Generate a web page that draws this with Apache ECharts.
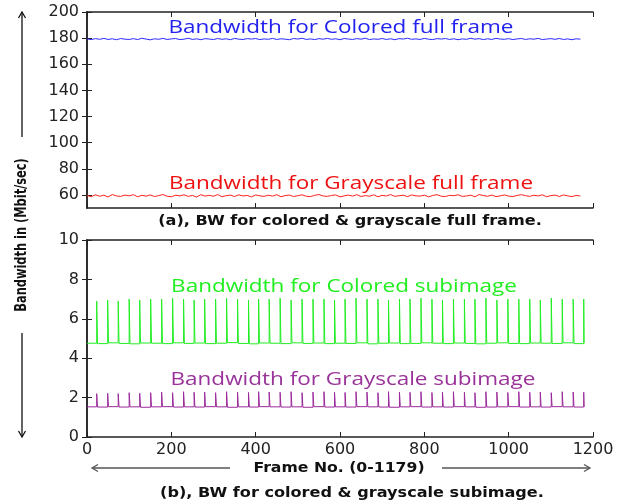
<!DOCTYPE html>
<html>
<head>
<meta charset="utf-8">
<script src="https://cdn.jsdelivr.net/npm/echarts@6/dist/echarts.min.js"></script>
<style>html,body{margin:0;padding:0;background:#fff}#c{width:633px;height:504px}</style>
</head>
<body>
<div id="c"></div>
<script>
// ---- data ----
var fullStep = 10; // sampling grid of frames for the full-frame series
var coloredFull = [
179.4,178.9,179.6,179.1,179.8,179.0,179.5,178.8,179.7,179.2,
179.0,179.6,178.9,179.9,179.3,178.7,179.5,179.1,179.8,179.0,
179.4,179.7,178.9,179.2,179.9,179.0,179.5,178.8,179.6,179.3,
178.9,179.7,179.1,179.5,178.8,179.8,179.2,179.0,179.6,179.3,
179.7,178.9,179.4,179.1,179.8,179.0,179.5,179.2,178.8,179.7,
179.3,179.9,179.0,179.4,178.9,179.6,179.2,179.8,179.1,179.5,
178.8,179.7,179.3,179.0,179.6,179.2,179.9,178.9,179.4,179.1,
179.7,179.0,179.5,178.8,179.6,179.3,179.9,179.1,179.4,179.0,
179.8,179.2,178.9,179.6,179.3,179.7,179.0,179.5,178.8,179.4,
179.1,179.9,179.2,179.6,178.9,179.5,179.0,179.8,179.3,179.1,
179.6,178.9,179.4,179.7,179.0,179.5,179.2,179.8,178.9,179.3,
179.6,179.1,179.7,179.0,179.4,178.8,179.5,179.2];
var grayFull = [
59.6,58.7,60.1,59.0,59.8,58.5,60.3,59.2,58.9,59.9,
59.3,60.2,58.6,59.7,59.1,60.0,58.8,59.5,60.3,59.0,
58.6,59.8,59.3,60.1,58.9,59.6,58.4,60.2,59.1,59.7,
59.0,60.3,58.7,59.4,59.9,58.8,60.1,59.2,59.6,58.5,
60.0,59.3,58.9,59.8,59.1,60.2,58.6,59.5,59.9,58.8,
59.4,60.1,59.0,58.7,59.7,60.3,59.2,58.9,59.6,60.0,
58.5,59.3,59.9,59.1,60.2,58.8,59.5,59.0,60.1,58.6,
59.7,59.2,60.3,58.9,59.4,59.8,58.7,60.0,59.3,59.1,
59.9,58.5,59.6,60.2,59.0,58.8,59.7,59.4,60.1,58.9,
59.2,59.8,58.6,60.3,59.5,59.0,59.9,58.7,59.3,60.0,
59.1,58.8,59.6,60.2,59.4,58.9,59.8,59.2,60.1,58.6,
59.5,59.9,58.8,60.0,59.3,58.7,59.6,59.2];

var spikeFrames = [23,49,74,100,125,151,177,203,229,254,279,305,331,357,383,407,432,458,484,510,536,562,587,612,638,664,690,715,741,766,792,818,843,869,895,920,946,972,998,1024,1050,1075,1101,1127,1153,1178];
var coloredSubPeaks = [6.9,6.95,6.9,7.0,6.95,7.0,7.0,7.05,7.0,6.95,7.0,7.0,7.05,7.0,6.95,7.0,7.0,7.05,6.95,7.0,7.0,7.0,6.95,7.0,7.05,7.0,7.0,6.95,7.0,7.0,7.05,7.0,6.95,7.0,7.0,7.0,7.05,6.95,7.0,7.0,7.0,6.95,7.05,7.0,7.0,7.0];
var coloredSubBase = [4.76,4.74,4.78,4.75,4.73,4.77,4.76,4.74,4.78,4.75,4.77,4.74,4.76,4.79,4.75,4.73,4.77,4.76,4.74,4.78,4.75,4.77,4.74,4.76,4.75,4.78,4.73,4.76,4.77,4.74,4.75,4.78,4.76,4.74,4.77,4.75,4.73,4.76,4.78,4.75,4.74,4.77,4.76,4.75,4.78,4.74,4.76];
var graySubPeaks = [2.2,2.22,2.2,2.25,2.22,2.25,2.28,2.25,2.3,2.27,2.28,2.25,2.3,2.28,2.26,2.3,2.28,2.27,2.3,2.25,2.28,2.3,2.27,2.26,2.3,2.28,2.25,2.3,2.28,2.27,2.3,2.26,2.28,2.3,2.27,2.25,2.3,2.28,2.26,2.3,2.27,2.28,2.25,2.3,2.28,2.27];
var graySubBase = [1.53,1.52,1.54,1.52,1.53,1.51,1.53,1.54,1.52,1.53,1.52,1.54,1.53,1.51,1.53,1.52,1.54,1.53,1.52,1.53,1.51,1.54,1.52,1.53,1.52,1.54,1.53,1.52,1.51,1.53,1.54,1.52,1.53,1.52,1.54,1.53,1.51,1.52,1.53,1.54,1.52,1.53,1.52,1.54,1.53,1.52,1.53];

var topYTicks = [60,80,100,120,140,160,180,200];
var lastFrame = 1179;

// ---- build series data ----
function fullSeries(vals){ return vals.map(function(v,i){ return [i*fullStep, v]; }); }
function spikeSeries(frames, peaks, bases){
  var d = [[0, bases[0]]];
  for (var i=0;i<frames.length;i++){
    d.push([frames[i], bases[i]]);
    d.push([frames[i], peaks[i]]);
    d.push([Math.min(frames[i]+2, lastFrame), bases[i+1]]);
  }
  d.push([lastFrame, bases[bases.length-1]]);
  return d;
}

var chart = echarts.init(document.getElementById('c'), null, {renderer:'canvas'});
var tickFont = {fontFamily:'DejaVu Sans', fontSize:16, color:'#222'};
function yAxTop(pos, labels){
  return {type:'value', gridIndex:0, min:50, max:200, position:pos,
    axisLine:{show:true, lineStyle:{color:'#222', width:1.5}},
    axisTick:{show:true, inside:false, length:-5, customValues:topYTicks, lineStyle:{color:'#222'}},
    axisLabel:Object.assign({show:labels, customValues:topYTicks, margin:8}, tickFont),
    splitLine:{show:false}};
}
function xAx(gi, pos, labels){
  return {type:'value', gridIndex:gi, min:0, max:1200, interval:200, position:pos,
    axisLine:{show:true, onZero:false, lineStyle:{color:'#222', width:1.5}},
    axisTick:{show:true, inside:true, length:5, lineStyle:{color:'#222'}},
    axisLabel:Object.assign({show:labels, margin:5, formatter:function(v){return String(v);}}, tickFont),
    splitLine:{show:false}};
}
function yAxB(pos, labels){
  return {type:'value', gridIndex:1, min:0, max:10, interval:2, position:pos,
    axisLine:{show:true, lineStyle:{color:'#222', width:1.5}},
    axisTick:{show:true, inside:true, length:5, lineStyle:{color:'#222'}},
    axisLabel:Object.assign({show:labels, margin:8}, tickFont),
    splitLine:{show:false}};
}

var boldFont = 'bold 14px "DejaVu Sans"';
var annFont = '18px "Open Sans"';
function txt(t, x, y, fill, font, sx, rot){
  return {type:'text', x:x, y:y, scaleX:sx||1, rotation:rot||0, silent:true,
    style:{text:t, fill:fill, font:font, align:'center', verticalAlign:'middle'}};
}
function arrow(x1,y1,x2,y2,color){
  var dx=x2-x1, dy=y2-y1, L=Math.sqrt(dx*dx+dy*dy), ux=dx/L, uy=dy/L, h=6, w=3.5;
  return {type:'group', silent:true, children:[
    {type:'line', shape:{x1:x1,y1:y1,x2:x2,y2:y2}, style:{stroke:color, lineWidth:1.3}},
    {type:'polyline', shape:{points:[[x2-ux*h-uy*w, y2-uy*h+ux*w],[x2,y2],[x2-ux*h+uy*w, y2-uy*h-ux*w]]}, style:{stroke:color, lineWidth:1.3, fill:null}}
  ]};
}

chart.setOption({
  animation:false,
  backgroundColor:'#fff',
  grid:[
    {left:87, right:40, top:12, height:196},
    {left:87, right:40, top:240, height:197}
  ],
  xAxis:[xAx(0,'bottom',false), xAx(0,'top',false), xAx(1,'bottom',true), xAx(1,'top',false)],
  yAxis:[yAxTop('left',true), yAxTop('right',false), yAxB('left',true), yAxB('right',false)],
  series:[
    {type:'line', xAxisIndex:0, yAxisIndex:0, data:fullSeries(coloredFull), showSymbol:false, lineStyle:{color:'#2a2aff', width:1}},
    {type:'line', xAxisIndex:0, yAxisIndex:0, data:fullSeries(grayFull), showSymbol:false, lineStyle:{color:'#ff2020', width:1}},
    {type:'line', xAxisIndex:2, yAxisIndex:2, data:spikeSeries(spikeFrames, coloredSubPeaks, coloredSubBase), showSymbol:false, lineStyle:{color:'#22ee22', width:1}},
    {type:'line', xAxisIndex:2, yAxisIndex:2, data:spikeSeries(spikeFrames, graySubPeaks, graySubBase), showSymbol:false, lineStyle:{color:'#9b2a9b', width:1}}
  ],
  graphic:[
    txt('Bandwidth for Colored full frame', 341, 28, '#2222ee', annFont, 1.25),
    txt('Bandwidth for Grayscale full frame', 351, 184, '#ee1111', annFont, 1.25),
    txt('Bandwidth for Colored subimage', 344, 287, '#22ee22', annFont, 1.25),
    txt('Bandwidth for Grayscale subimage', 353, 380, '#993399', annFont, 1.25),
    txt('(a), BW for colored & grayscale full frame.', 350, 221, '#111', boldFont, 1.15),
    txt('(b), BW for colored & grayscale subimage.', 352, 493, '#111', boldFont, 1.15),
    txt('Frame No. (0-1179)', 339, 468, '#111', boldFont, 1.12),
    txt('Bandwidth in (Mbit/sec)', 22, 235, '#111', 'bold 15px "DejaVu Sans"', 0.76, Math.PI/2),
    arrow(22,137,22,12,'#111'),
    arrow(22,333,22,437,'#111'),
    arrow(230,468,92,468,'#555'),
    arrow(442,468,590,468,'#555')
  ]
});
</script>
</body>
</html>
